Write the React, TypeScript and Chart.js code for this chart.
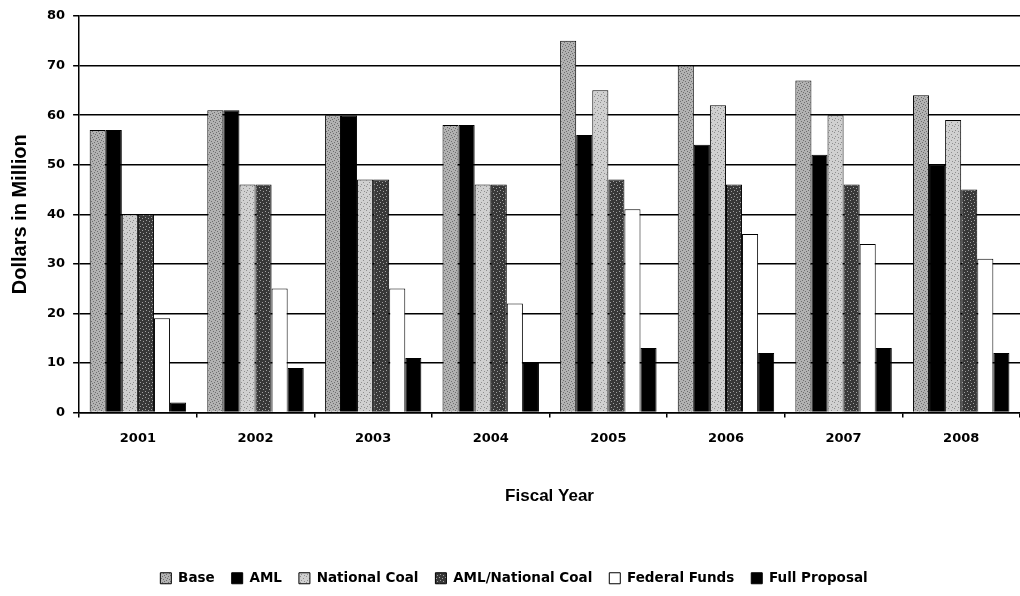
import React, { useEffect, useRef } from "react";
import { Chart, registerables } from "chart.js";

Chart.register(...registerables);

const categories = ["2001", "2002", "2003", "2004", "2005", "2006", "2007", "2008"];
const base = [57, 61, 60, 58, 75, 70, 67, 64];
const aml = [57, 61, 60, 58, 56, 54, 52, 50];
const nationalCoal = [40, 46, 47, 46, 65, 62, 60, 59];
const amlNationalCoal = [40, 46, 47, 46, 47, 46, 46, 45];
const federalFunds = [19, 25, 25, 22, 41, 36, 34, 31];
const fullProposal = [2, 9, 11, 10, 13, 12, 13, 12];

function makePattern(bg: string, dot: string, dots: [number, number][], size = 6) {
  const c = document.createElement("canvas");
  c.width = size;
  c.height = size;
  const ctx = c.getContext("2d")!;
  ctx.fillStyle = bg;
  ctx.fillRect(0, 0, size, size);
  ctx.fillStyle = dot;
  dots.forEach(([x, y]) => ctx.fillRect(x, y, 1, 1));
  const p = document.createElement("canvas").getContext("2d")!.createPattern(c, "repeat");
  return p || bg;
}

export default function App() {
  const ref = useRef<HTMLCanvasElement>(null);
  useEffect(() => {
    if (!ref.current) return;
    const basePat = makePattern("#b2b2b2", "#6e6e6e", [[0, 0], [3, 1], [1, 3], [4, 4], [2, 5], [5, 2]]);
    const ncPat = makePattern("#d0d0d0", "#8e8e8e", [[0, 0], [3, 2], [1, 4], [4, 5]]);
    const amlNcPat = makePattern("#383838", "#a0a0a0", [[1, 1], [4, 2], [2, 4], [5, 5]]);
    const titleFont = "'Liberation Sans', Arial, sans-serif";
    const tickFont = "'DejaVu Sans', sans-serif";
    const mk = (label: string, data: number[], bg: any) => ({
      label,
      data,
      backgroundColor: bg,
      borderColor: "#000",
      borderWidth: 1,
      borderSkipped: "bottom" as const,
      categoryPercentage: 0.82,
      barPercentage: 1.0,
    });
    const chart = new Chart(ref.current, {
      type: "bar",
      data: {
        labels: categories,
        datasets: [
          mk("Base", base, basePat),
          mk("AML", aml, "#000000"),
          mk("National Coal", nationalCoal, ncPat),
          mk("AML/National Coal", amlNationalCoal, amlNcPat),
          mk("Federal Funds", federalFunds, "#ffffff"),
          mk("Full Proposal", fullProposal, "#000000"),
        ],
      },
      options: {
        animation: false,
        responsive: true,
        maintainAspectRatio: false,
        layout: { padding: { left: 8, right: 0, top: 16, bottom: 1 } },
        plugins: {
          tooltip: { enabled: false },
          legend: {
            position: "bottom",
            labels: {
              boxWidth: 11,
              boxHeight: 11,
              padding: 17,
              color: "#000",
              font: { family: tickFont, size: 13.5, weight: "bold" },
            },
          },
        },
        scales: {
          x: {
            grid: {
              display: true,
              drawOnChartArea: false,
              drawTicks: true,
              tickLength: 5,
              color: "#000",
              lineWidth: 1.5,
              offset: true,
            },
            border: { color: "#000", width: 1.5 },
            ticks: {
              color: "#000",
              padding: 13,
              font: { family: tickFont, size: 13, weight: "bold" },
            },
            title: {
              display: true,
              text: "Fiscal Year",
              color: "#000",
              font: { family: titleFont, size: 17, weight: "bold" },
              padding: { top: 27, bottom: 48 },
            },
          },
          y: {
            min: 0,
            max: 80,
            ticks: {
              stepSize: 10,
              color: "#000",
              padding: 8,
              font: { family: tickFont, size: 13, weight: "bold" },
            },
            grid: {
              color: "#000",
              lineWidth: 1.5,
              tickLength: 6,
            },
            border: { color: "#000", width: 1.5 },
            title: {
              display: true,
              text: "Dollars in Million",
              color: "#000",
              font: { family: titleFont, size: 20, weight: "bold" },
              padding: { top: 0, bottom: 7 },
            },
          },
        },
      },
    });
    return () => chart.destroy();
  }, []);
  return (
    <div style={{ position: "fixed", left: 0, top: 0, width: 1020, height: 596, background: "#fff" }}>
      <canvas ref={ref} />
    </div>
  );
}
